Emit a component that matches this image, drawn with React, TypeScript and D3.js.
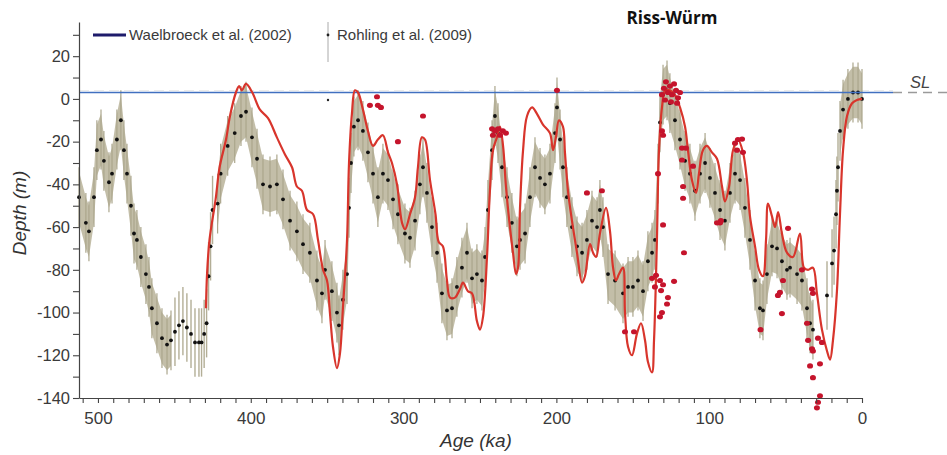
import React, { useRef, useEffect } from 'react';
import * as d3 from 'd3';

const W = 947;
const H = 455;

// Rohling et al. (2009) reconstruction, [age ka, depth m]
const rohlingEarly: [number, number][] = [
  [512.4, -46], [507.9, -58], [505.9, -62], [502.6, -46], [500.7, -24], [498.0, -19],
  [496.1, -29], [492.8, -39], [490.8, -35], [487.6, -19], [485.0, -10], [483.0, -24],
  [481.0, -35], [478.4, -50], [476.4, -63], [474.5, -66], [471.9, -74], [468.6, -82],
  [466.6, -88], [464.7, -98], [461.4, -105], [458.1, -112], [454.8, -115], [452.2, -113],
];

// sparse stretch with individual error bars
const rohlingSparseEarly: [number, number][] = [
  [449.6, -109], [447.0, -106], [444.4, -104], [441.8, -107], [439.1, -110], [436.5, -114],
  [433.9, -114], [432.2, -114], [430.5, -110], [428.9, -105], [427.6, -83], [426.3, -69],
  [425.0, -52],
];

const rohlingMain: [number, number][] = [
  [421.7, -49], [419.7, -35], [415.1, -22], [410.5, -16], [406.4, -8], [403.1, -6],
  [399.2, -18], [395.9, -28], [392.0, -40], [387.4, -41], [382.9, -40], [378.9, -47],
  [374.3, -57], [369.8, -62], [365.8, -68], [361.3, -72], [356.7, -85], [353.4, -91],
  [351.4, -80], [346.9, -90], [343.6, -100], [342.3, -106], [339.7, -94], [337.0, -82],
  [335.7, -51], [334.4, -30], [332.5, -13], [329.8, -10], [326.6, -15], [323.3, -25],
  [320.0, -35], [316.8, -46], [313.5, -35], [310.2, -38], [306.9, -47], [303.7, -54],
  [299.1, -63], [295.8, -65], [292.5, -57], [289.3, -40], [287.3, -32], [284.7, -44],
  [281.4, -60], [278.1, -72], [274.9, -91], [271.6, -99], [268.3, -98], [265.1, -88],
  [261.8, -79], [258.5, -72], [255.2, -84], [252.0, -82], [248.7, -85], [246.7, -74],
  [244.8, -52], [242.1, -24], [240.2, -8], [238.2, -16], [235.6, -32], [232.3, -46],
  [229.1, -58], [225.8, -69], [223.8, -66], [220.5, -63], [217.3, -46], [214.0, -32],
  [210.7, -37], [207.5, -40], [204.2, -35], [200.9, -16], [199.6, -4], [197.6, -19],
  [195.7, -32], [193.1, -46], [189.8, -60], [186.5, -69], [183.2, -72], [180.0, -66],
  [176.7, -57], [173.4, -60], [171.5, -52], [169.5, -60], [166.2, -82], [161.6, -85],
  [156.4, -91], [153.1, -88], [149.9, -88], [146.6, -85], [143.3, -90], [140.1, -76],
  [137.4, -72], [135.5, -66], [133.5, -35], [132.2, -11], [130.2, 2], [127.6, 4],
  [125.7, -2], [122.4, -10], [119.1, -19], [115.8, -29], [112.6, -35], [109.3, -43],
  [106.0, -35], [102.7, -30], [99.5, -37], [96.2, -44], [92.9, -52], [89.7, -57],
  [86.4, -44], [83.1, -35], [79.8, -38], [76.6, -51], [73.3, -66], [70.0, -85],
  [66.8, -98], [64.8, -99], [62.2, -82], [58.9, -69], [55.6, -70], [52.4, -76],
  [49.1, -80], [47.1, -79], [42.5, -82], [39.3, -85], [36.0, -98], [34.0, -105],
  [32.1, -108],
];

const rohlingSparseLate: [number, number][] = [
  [22.9, -92], [19.6, -77], [18.3, -71], [17.0, -54], [16.4, -43], [15.7, -32],
];

const rohlingHolocene: [number, number][] = [
  [14.4, -15], [12.4, -5], [9.2, 0], [5.9, 3], [2.6, 3], [0, 0],
];

const rohlingErr = 12;
const rohlingSparseErr = 16;

// Waelbroeck et al. (2002), [age ka, depth m]
const waelbroeck: [number, number][] = [
  [429.3, -98], [428.6, -82], [427.0, -66], [423.0, -47], [420.4, -32], [416.2, -19],
  [413.6, -8], [409.7, 3], [407.6, 6], [405.8, 4], [403.1, 7], [399.0, 3],
  [394.0, -5], [388.7, -9], [382.9, -18], [377.6, -26], [373.0, -32], [369.8, -41],
  [366.5, -43], [363.2, -52], [359.2, -54], [356.0, -66], [352.7, -80], [350.1, -85],
  [348.2, -100], [346.2, -116], [343.6, -126], [341.6, -119], [339.7, -98], [337.0, -66],
  [335.7, -30], [333.8, -7], [331.8, 4], [329.8, 3], [326.6, -5], [323.3, -15],
  [320.0, -22], [316.8, -19], [313.5, -17], [310.2, -25], [307.6, -30], [304.3, -40],
  [301.0, -58], [299.0, -61], [295.8, -54], [292.5, -46], [290.6, -32], [288.0, -18],
  [286.0, -19], [282.7, -38], [279.1, -54], [277.0, -67], [274.3, -69], [271.6, -85],
  [269.6, -93], [266.4, -93], [263.1, -89], [261.1, -86], [257.9, -90], [255.2, -91],
  [252.0, -104], [250.0, -108], [248.0, -102], [245.4, -74], [243.5, -43], [241.5, -24],
  [238.9, -18], [236.9, -13], [234.9, -22], [233.0, -41], [230.4, -60], [228.4, -72],
  [226.4, -82], [225.1, -79], [223.8, -51], [221.8, -24], [219.2, -8], [215.9, -4],
  [212.7, -7], [208.8, -12], [204.2, -16], [202.2, -24], [200.3, -18], [198.3, -10],
  [195.7, -13], [194.4, -25], [192.4, -43], [189.8, -57], [186.5, -72], [183.2, -86],
  [181.3, -83], [178.0, -68], [176.0, -72], [174.0, -74], [171.5, -63], [167.5, -51],
  [164.9, -62], [162.9, -79], [161.0, -85], [159.0, -82], [156.4, -79], [155.1, -100],
  [153.1, -116], [150.5, -120], [147.3, -110], [144.6, -105], [142.0, -113], [140.1, -123],
  [137.4, -128], [136.1, -113], [134.2, -66], [132.9, -25], [130.9, -4], [128.9, 4],
  [125.7, 4], [122.4, 2], [119.1, -4], [115.8, -13], [113.9, -24], [111.3, -38],
  [108.6, -44], [106.7, -35], [104.1, -24], [101.5, -22], [98.2, -25], [94.9, -28],
  [91.6, -41], [89.7, -48], [87.0, -41], [84.4, -24], [81.2, -19], [77.9, -25],
  [75.3, -38], [73.3, -55], [70.0, -69], [67.4, -80], [64.8, -83], [62.8, -66],
  [61.5, -49], [58.9, -55], [56.9, -60], [54.9, -53], [52.4, -63], [49.1, -72],
  [45.2, -74], [40.6, -63], [38.0, -79], [35.3, -80], [32.1, -79], [29.5, -91],
  [26.2, -108], [22.9, -118], [20.9, -122], [19.0, -113], [16.4, -90], [14.4, -54],
  [12.4, -24], [9.8, -8], [6.5, -2], [3.3, -0.5], [0, 0],
];

// coral / red dot observations, [age ka, depth m]
const corals: [number, number][] = [
  [322, -3], [317.4, 1], [316.8, -3], [314.8, -4], [303.7, -20], [287.3, -8],
  [242.1, -14], [241.5, -17], [240.2, -15], [238.2, -14], [236.9, -17], [235, -15], [233, -16],
  [199.6, 4], [180, -44], [170.2, -43],
  [130.9, 2], [129.6, 5], [128.3, 8], [127, 3], [125.7, 6], [124.3, 2], [123, 7],
  [121.7, 4], [120.4, 0.5], [119.1, 3], [128.9, -0.5], [125, -1.4], [121, -2],
  [130.9, -15], [130.2, -17], [133.5, -35], [130.2, -59],
  [137.4, -84], [134.8, -82.6], [132.2, -85], [130.2, -87], [135.5, -88], [131.5, -89.7],
  [123, -85.4], [127, -93], [127.6, -96], [130.9, -100], [132.2, -102],
  [116.5, -72], [155.1, -109], [149.2, -109],
  [117.8, -23], [115.2, -23], [117.8, -28.6], [117.1, -41], [117.1, -46.5], [110.6, -31.5],
  [92.9, -58], [94.9, -58], [92.3, -57],
  [83.1, -20.7], [81.2, -19], [78.5, -18.8], [77.9, -25], [81.8, -24],
  [66.4, -108],
  [51.7, -85], [53.7, -90.6], [52.4, -100.5], [48.4, -60.6], [55, -92],
  [39.3, -80], [32.7, -89], [32.1, -91], [36, -105], [35.3, -113], [32.7, -117],
  [32.1, -118], [28.8, -112], [26.2, -114], [34, -125], [27.5, -124], [32.1, -130.5],
  [27.5, -139], [28.8, -142], [29.5, -144.6],
];

const seaLevel = 3;
const xTickLabels = [500, 400, 300, 200, 100, 0];
const yTickLabels = [20, 0, -20, -40, -60, -80, -100, -120, -140];

const FONT = "'Liberation Sans', Arial, Helvetica, sans-serif";

const App: React.FC = () => {
  const xAxisRef = useRef<SVGGElement>(null);
  const yAxisRef = useRef<SVGGElement>(null);

  const x = d3.scaleLinear().domain([512.4, 0]).range([79, 862]);
  const y = d3.scaleLinear().domain([-140, 36]).range([398, 22]);

  useEffect(() => {
    if (!xAxisRef.current || !yAxisRef.current) return;

    const xAxis = d3.axisBottom(x)
      .tickValues(d3.range(0, 511, 10))
      .tickSize(5)
      .tickSizeOuter(0)
      .tickPadding(9)
      .tickFormat(d => (xTickLabels.includes(+d) ? String(d) : ''));

    const yAxis = d3.axisLeft(y)
      .tickValues(d3.range(-140, 31, 10))
      .tickSize(6)
      .tickSizeOuter(0)
      .tickPadding(3)
      .tickFormat(d => (yTickLabels.includes(+d) ? String(d) : ''));

    const gx = d3.select(xAxisRef.current);
    gx.selectAll('*').remove();
    gx.call(xAxis);
    gx.selectAll('text').attr('font-size', 17).attr('font-family', FONT).attr('fill', '#3a3a3a');

    const gy = d3.select(yAxisRef.current);
    gy.selectAll('*').remove();
    gy.call(yAxis);
    gy.selectAll('text').attr('font-size', 16.5).attr('font-family', FONT).attr('fill', '#3a3a3a');

    [gx, gy].forEach(g => {
      g.select('.domain').attr('stroke', '#444').attr('stroke-width', 1.2);
      g.selectAll('.tick line').attr('stroke', '#444').attr('stroke-width', 1.1);
    });
  }, []);

  const band = (err: number) =>
    d3.area<[number, number]>()
      .x(d => x(d[0]))
      .y0(d => y(d[1] - err))
      .y1(d => y(d[1] + err))
      .curve(d3.curveLinear);

  const redLine = d3.line<[number, number]>()
    .x(d => x(d[0]))
    .y(d => y(d[1]))
    .curve(d3.curveCatmullRom.alpha(0.5));

  const denseSegments = [rohlingEarly, rohlingMain, rohlingHolocene];
  const sparseSegments = [rohlingSparseEarly, rohlingSparseLate];
  const allDense = denseSegments.flat();
  const allSparse = sparseSegments.flat();

  const slY = y(seaLevel);

  return (
    <div style={{ position: 'absolute', left: 0, top: 0 }}>
      <svg width={W} height={H} style={{ display: 'block', background: '#fff' }}>
        {/* faint original SL dashes */}
        <line x1={79} x2={893} y1={slY - 2} y2={slY - 2} stroke="#ebebeb" strokeWidth={1} strokeDasharray="10 5" />

        {/* Rohling envelope */}
        {denseSegments.map((seg, i) => (
          <path key={`band${i}`} d={band(rohlingErr)(seg) || ''} fill="#bcb79e" opacity={0.9} />
        ))}
        {allDense.map((d, i) => (
          <line key={`eb${i}`} x1={x(d[0])} x2={x(d[0])} y1={y(d[1] - rohlingErr - 2)} y2={y(d[1] + rohlingErr + 2)}
            stroke="#aba68c" strokeWidth={1.2} />
        ))}
        {allSparse.map((d, i) => (
          <line key={`sb${i}`} x1={x(d[0])} x2={x(d[0])} y1={y(d[1] - rohlingSparseErr)} y2={y(d[1] + rohlingSparseErr)}
            stroke="#b3ae96" strokeWidth={1.4} />
        ))}
        {[...allDense, ...allSparse].map((d, i) => (
          <circle key={`rd${i}`} cx={x(d[0])} cy={y(d[1])} r={1.9} fill="#111" />
        ))}

        {/* sea level */}
        <line x1={79} x2={893} y1={slY} y2={slY} stroke="#4170c0" strokeWidth={1.6} />
        <line x1={893} x2={W} y1={slY} y2={slY} stroke="#9a9a9a" strokeWidth={1.5} strokeDasharray="9 6" />
        <text x={910} y={88} fontFamily={FONT} fontStyle="italic" fontSize={16.5} fill="#444">SL</text>

        {/* Waelbroeck curve */}
        <path d={redLine(waelbroeck) || ''} fill="none" stroke="#d8352c" strokeWidth={2.2} />

        {/* corals */}
        {corals.map((d, i) => (
          <ellipse key={`c${i}`} cx={x(d[0])} cy={y(d[1])} rx={3} ry={2.6} fill="#c5142c" />
        ))}

        {/* axes */}
        <g ref={xAxisRef} transform={`translate(0,${y(-140)})`} />
        <g ref={yAxisRef} transform={`translate(${x(512.4)},0)`} />

        <text x={476} y={447} textAnchor="middle" fontFamily={FONT} fontStyle="italic" fontSize={19} fill="#333">Age (ka)</text>
        <text transform="translate(26,213) rotate(-90)" textAnchor="middle" fontFamily={FONT} fontStyle="italic" fontSize={19} fill="#333">Depth (m)</text>

        {/* legend */}
        <line x1={93} x2={126} y1={35} y2={35} stroke="#1e1b6b" strokeWidth={3} />
        <text x={129} y={40} fontFamily={FONT} fontSize={15} fill="#3a3a3a">Waelbroeck et al. (2002)</text>
        <line x1={328} x2={328} y1={22} y2={62} stroke="#aaa" strokeWidth={1} />
        <circle cx={328} cy={35} r={1.4} fill="#222" />
        <circle cx={328} cy={100} r={1.2} fill="#222" />
        <text x={337} y={40} fontFamily={FONT} fontSize={15} fill="#3a3a3a">Rohling et al. (2009)</text>

        <text x={672} y={24} textAnchor="middle" fontFamily="'Open Sans', 'Liberation Sans', sans-serif" fontWeight="bold" fontSize={17} fill="#111">Riss-Würm</text>
      </svg>
    </div>
  );
};

export default App;
